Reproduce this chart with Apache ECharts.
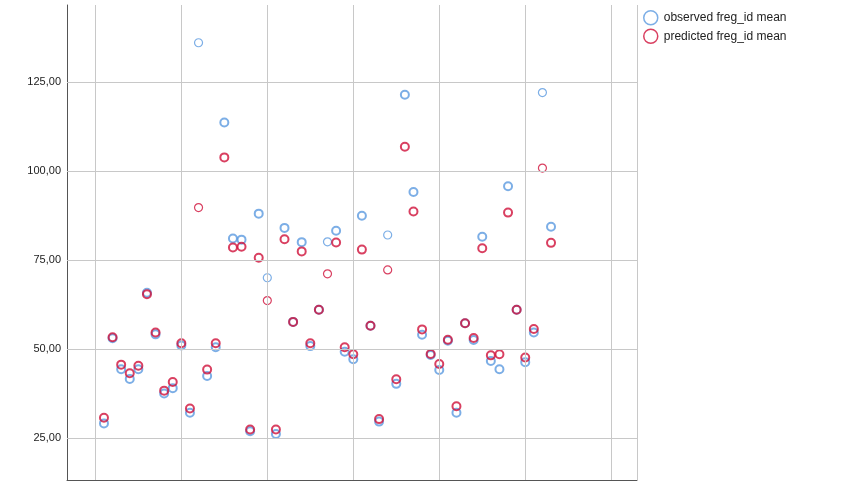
<!DOCTYPE html>
<html><head><meta charset="utf-8">
<script src="https://cdn.jsdelivr.net/npm/echarts@6/dist/echarts.min.js"></script>
<style>html,body{margin:0;padding:0;background:#fff}#c{width:850px;height:500px}</style>
</head><body><div id="c"></div>
<script>
const ids = [];
for (let i = 1; i <= 53; i++) ids.push(i);
const observed = [29.1,53.0,44.3,41.6,44.3,65.8,54.1,37.5,39.0,51.0,32.1,136.0,42.4,50.5,113.6,81.0,80.7,26.9,88.0,70.0,
  26.1,84.0,57.6,80.0,50.8,61.0,80.1,83.2,49.2,47.1,87.4,56.5,29.6,82.0,40.2,121.4,94.1,54.0,48.3,44.1,
  52.3,32.1,57.2,52.5,81.5,46.6,44.3,95.7,61.0,46.3,54.6,122.0,84.3];
const predicted = [30.7,53.3,45.6,43.2,45.3,65.4,54.6,38.3,40.7,51.6,33.3,89.7,44.2,51.6,103.8,78.5,78.7,27.4,75.6,63.6,
  27.4,80.8,57.6,77.4,51.6,61.0,71.1,79.9,50.5,48.5,77.9,56.5,30.3,72.2,41.5,106.8,88.6,55.5,48.6,45.8,
  52.6,33.9,57.2,53.1,78.3,48.2,48.5,88.3,61.0,47.6,55.6,100.8,79.8];
const thinIds = [12,20,27,34,52];
const yTicks = [25,50,75,100,125];
const xTicks = [0,10,20,30,40,50,60];

const BLUE = '#5b9ae0', RED = '#d0103a';
function mk(vals, color) {
  return ids.map((id, i) => ({
    value: [id, vals[i]],
    itemStyle: { color: 'transparent', borderColor: color, borderWidth: thinIds.includes(id) ? 1.2 : 2 }
  }));
}
const gridLine = { color: '#c8c8c8', width: 1, type: 'solid' };
const chart = echarts.init(document.getElementById('c'));
chart.setOption({
  animation: false,
  grid: { left: 67, top: 5, right: 213, bottom: 20 },
  legend: {
    orient: 'vertical', left: 638, top: 5, itemGap: 3, itemWidth: 16, itemHeight: 14,
    textStyle: { fontFamily: 'Arial, Liberation Sans', fontSize: 12, color: '#222' },
    data: [
      { name: 'observed freg_id mean', icon: 'circle', itemStyle: { color: '#fff', borderColor: BLUE, borderWidth: 1.5 } },
      { name: 'predicted freg_id mean', icon: 'circle', itemStyle: { color: '#fff', borderColor: RED, borderWidth: 1.5 } }
    ]
  },
  xAxis: {
    type: 'value', min: -3.3, max: 63,
    axisLine: { show: true, onZero: false, lineStyle: { color: '#555' } },
    axisTick: { show: false }, axisLabel: { show: false }, splitLine: { show: false }
  },
  yAxis: {
    type: 'value', min: 13.2, max: 146.6,
    axisLine: { show: true, onZero: false, lineStyle: { color: '#555' } },
    axisTick: { show: false }, axisLabel: { show: false }, splitLine: { show: false }
  },
  series: [
    {
      name: 'grid', type: 'line', data: [], silent: true,
      markLine: {
        silent: true, symbol: 'none', animation: false, lineStyle: gridLine,
        data: yTicks.map(v => ({ yAxis: v, label: { show: true, position: 'start', distance: 6, formatter: v.toFixed(2).replace('.', ','), color: '#222', fontSize: 11, fontFamily: 'Arial, Liberation Sans' } }))
          .concat(xTicks.map(v => ({ xAxis: v, label: { show: false } })))
          .concat([{ xAxis: 63, label: { show: false } }])
      }
    },
    { name: 'observed freg_id mean', type: 'scatter', symbol: 'circle', symbolSize: 8, z: 3, data: mk(observed, BLUE) },
    { name: 'predicted freg_id mean', type: 'scatter', symbol: 'circle', symbolSize: 8, z: 4, data: mk(predicted, RED) }
  ]
});
</script></body></html>
